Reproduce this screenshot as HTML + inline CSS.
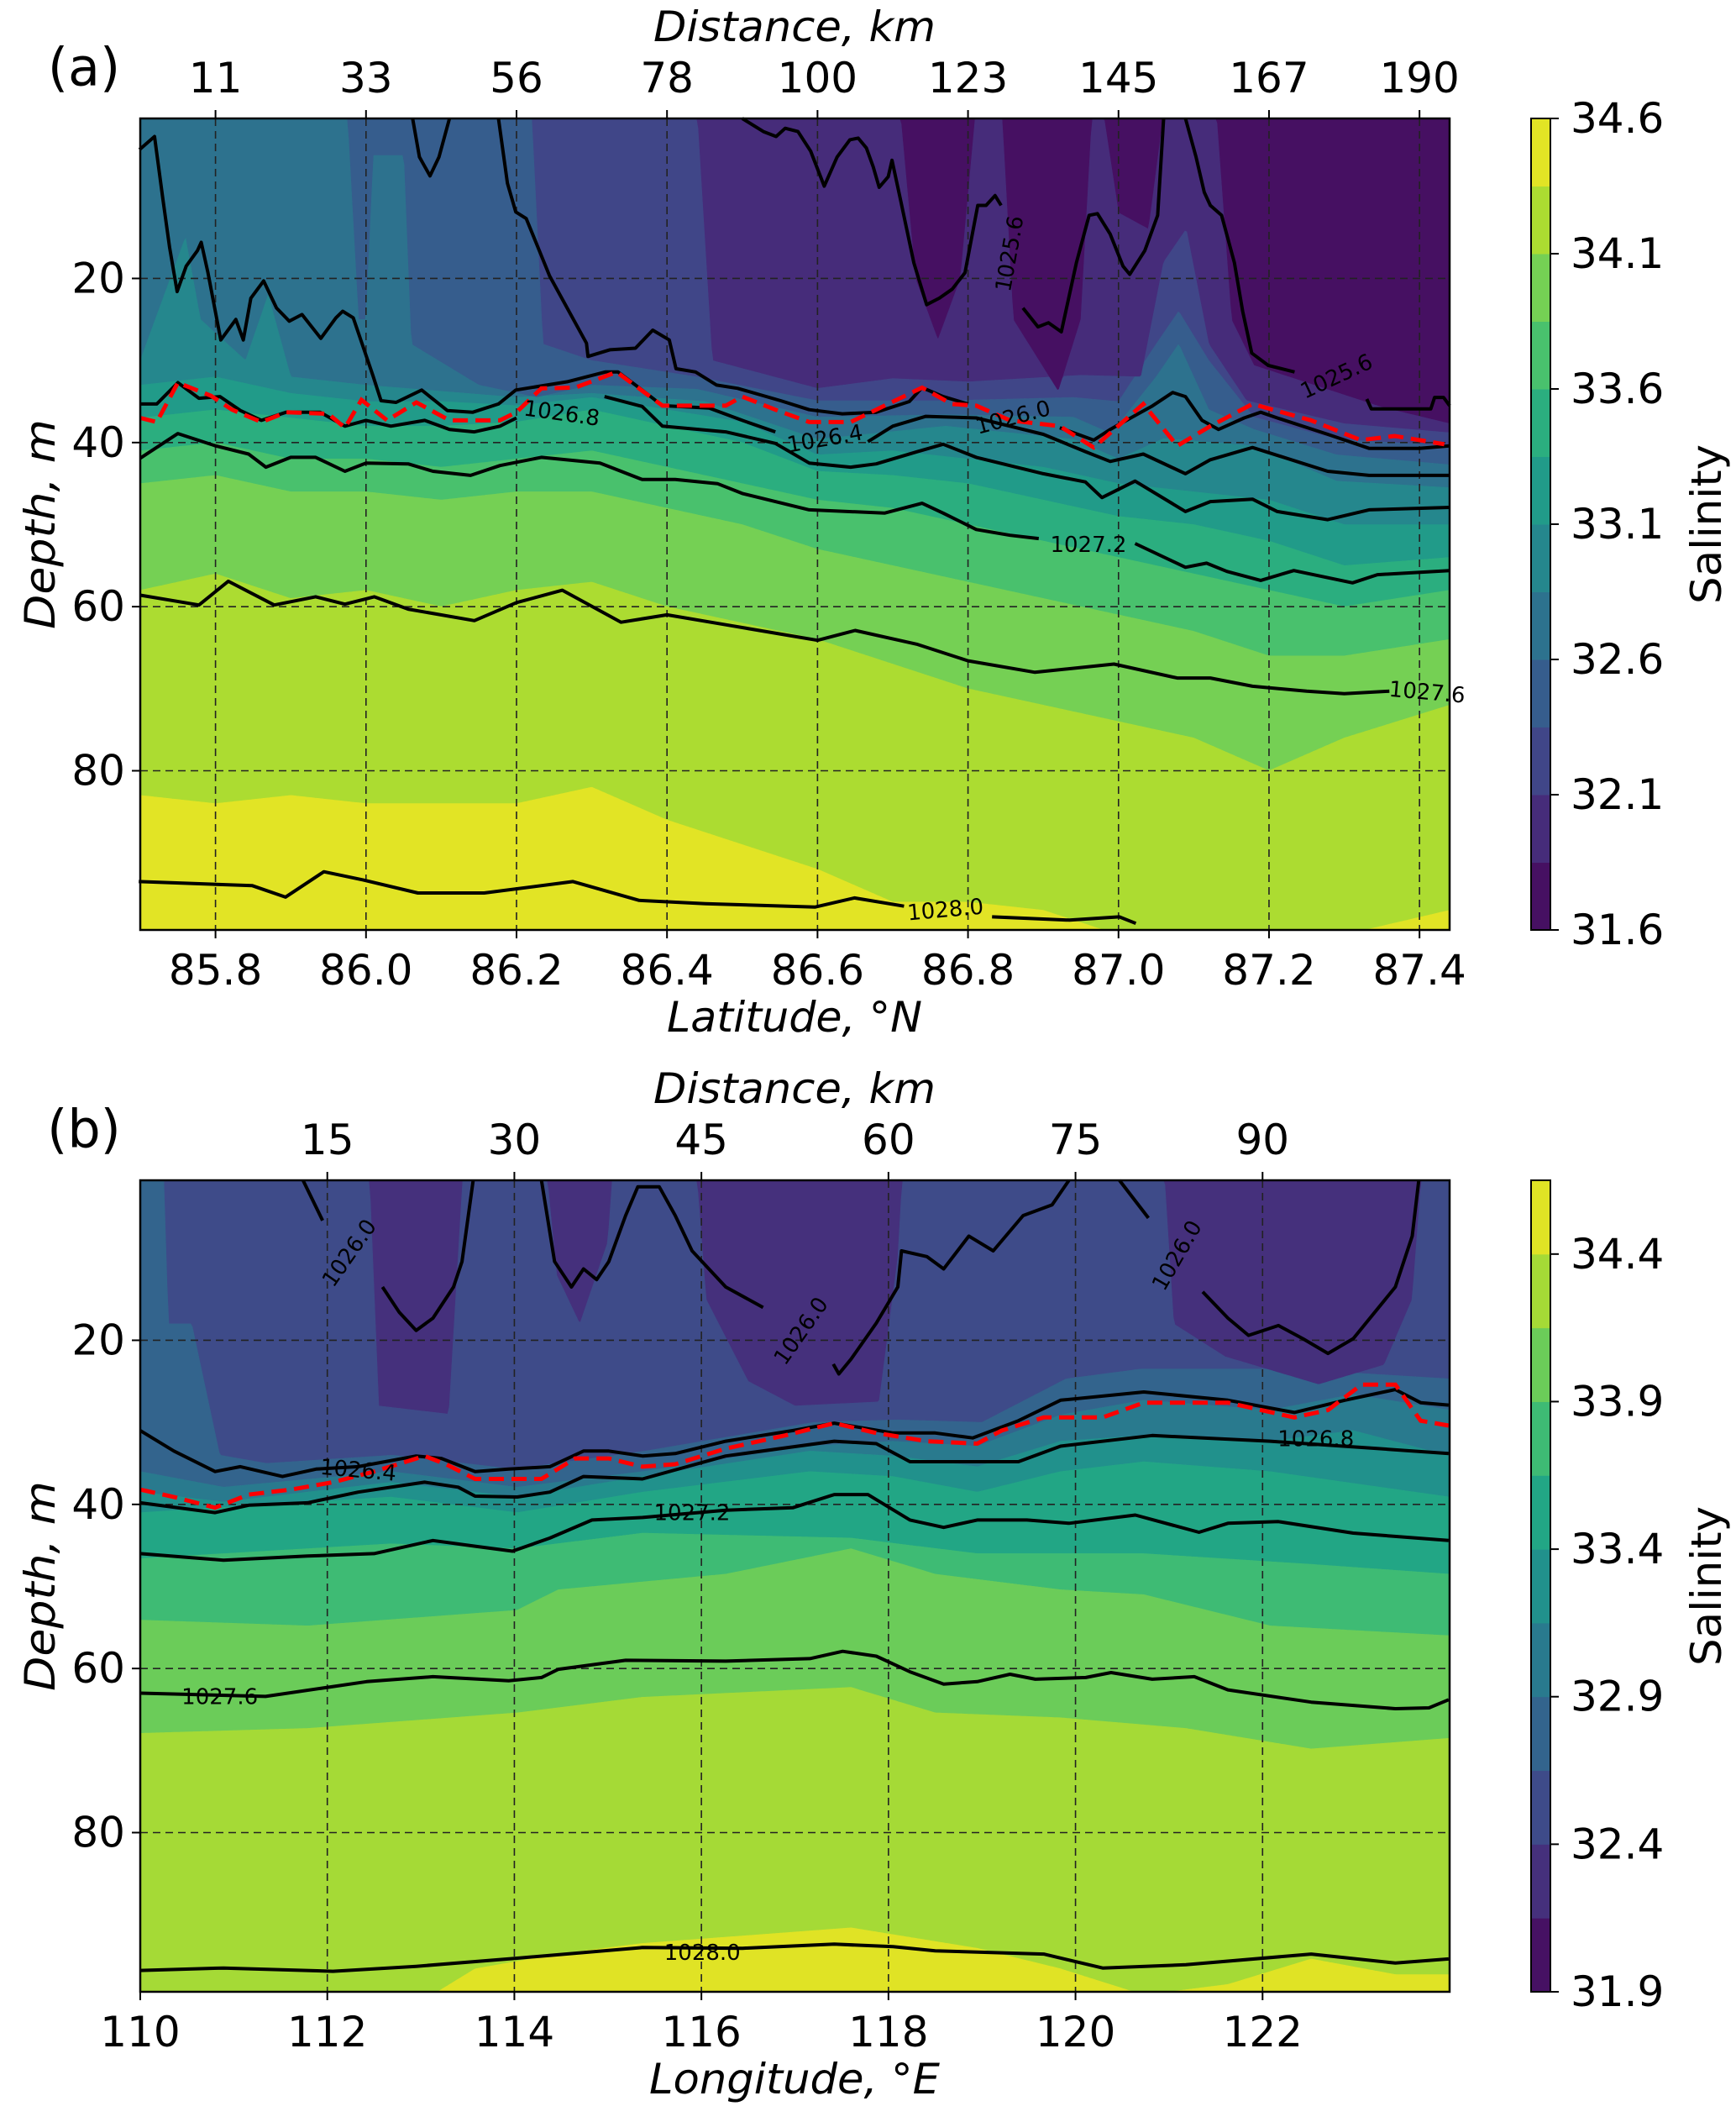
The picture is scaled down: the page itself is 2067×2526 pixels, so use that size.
<!DOCTYPE html>
<html><head><meta charset="utf-8"><title>Salinity sections</title>
<style>html,body{margin:0;padding:0;background:#fff}svg{display:block}text{font-family:"DejaVu Sans","Liberation Sans",sans-serif;fill:#000}</style>
</head><body>
<svg id="fig" xmlns="http://www.w3.org/2000/svg" width="2067" height="2526" viewBox="0 0 2067 2526">
<rect width="2067" height="2526" fill="#fff"/>
</svg>
<script>
// ================= DATA: panel (a) =================
const aLevels = [31.6,31.85,32.1,32.35,32.6,32.85,33.1,33.35,33.6,33.85,34.1,34.35,34.6];
const aCbTicks = [31.6,32.1,32.6,33.1,33.6,34.1,34.6];
const aLatTicks = [85.8,86.0,86.2,86.4,86.6,86.8,87.0,87.2,87.4];
const aDistLabels = ["11","33","56","78","100","123","145","167","190"];
const depthTicks = [20,40,60,80];
const aSt = [85.7,85.8,85.9,86.0,86.1,86.2,86.3,86.4,86.5,86.6,86.7,86.8,86.9,87.0,87.1,87.2,87.3,87.44];
const aB1x = [85.7,86.71,86.73,86.76,86.79,86.81,86.845,86.86,86.92,86.95,86.965,86.98,87.0,87.04,87.06,87.075,87.13,87.15,87.18,87.35,87.44];
const aB1d = [0,0,20,27.5,20,0,0,25,33.8,25,0,0,12,14,0,0,0,25,30.6,35.7,37.7];
const aB2x = [85.7,86.44,86.46,86.6,86.7,86.8,86.95,87.03,87.06,87.09,87.12,87.17,87.3,87.44];
const aB2d = [0,0,30,33.4,32.2,32.6,31.8,32,18,14,28,34.9,37.7,38.8];
const aB3x = [85.7,86.22,86.235,86.3,86.44,86.6,86.77,86.94,87.0,87.05,87.08,87.12,87.18,87.29,87.44];
const aB3d = [0,0,28,30,32,34.9,34.9,34.5,35,28,24,30,36.9,39.6,40.4];
const aB4x = [85.7,85.975,85.99,86.0,86.01,86.05,86.06,86.15,86.227,86.3,86.44,86.6,86.77,86.94,86.99,87.05,87.08,87.12,87.18,87.29,87.44];
const aB4d = [0,0,25,25,5,5,28,33,34.5,33,33.5,36.9,36.6,36.9,38.9,32,28,36,38.4,41.5,42.7];
const aB5x = [85.7,85.74,85.76,85.78,85.84,85.87,85.9,86.0,86.2,86.3,86.45,86.6,86.77,86.94,87.0,87.06,87.18,87.29,87.44];
const aB5d = [30,20,15,25,30,22,32,33,34.5,34,35,39.6,38,39.6,42,39.5,40.4,44.7,45.5];
const aB6d = [33,32,34,35,35,35.5,34.5,36,37.5,41.5,41,42,43,45,46,47,50,50];
const aB7d = [37,36,37,38,38,37.5,36,38,40,43.5,44,45,47,49,50,52,55,54];
const aB8d = [41,40,42,42,43,42,41,43,45,47,48,50,52,54,56,58,60,58];
const aB9d = [45,44,46,46,47,46,46,48,50,53,55,57,59,61,63,66,66,64];
const aB10d = [58,56,59,58,60,58,57,60,62,64,67,70,72,74,76,80,76,72];
const aB11d = [83,84,83,84,84,84,82,86,89,92,96,96,97,100,100,100,100,97];

// density contour lines (a)
const aY1x = [85.699,85.719,85.730,85.739,85.749,85.761,85.776,85.781,85.790,85.807,85.827,85.837,85.847,85.864,85.881,85.898,85.915,85.940,85.960,85.969,85.983,86.009,86.020,86.040,86.074,86.108,86.142,86.176,86.199,86.267,86.318,86.335,86.367,86.394,86.456,86.500,86.544];
const aY1d = [4.3,2.7,10.3,16.2,21.6,18.5,16.6,15.6,19.3,27.5,25.0,27.5,22.4,20.3,23.6,25.2,24.4,27.3,24.8,24.0,24.8,31.8,34.9,35.1,33.6,36.1,36.3,35.3,33.6,32.6,31.4,31.4,33.6,35.5,35.8,37.3,38.7];
const aY2x = [86.667,86.700,86.744,86.811,86.900,86.956,86.989,87.033,87.089,87.122,87.178,87.278,87.333,87.44];
const aY2d = [39.9,38.0,36.8,37.0,39.0,41.1,42.3,41.4,43.8,42.1,40.6,43.5,44.0,44.0];
const aL1ax = [85.700,85.722,85.750,85.778,85.806,85.833,85.861,85.894,85.939,85.972,86.000,86.033,86.078,86.111,86.144,86.178,86.200];
const aL1ad = [35.3,35.3,32.7,34.6,34.4,36.1,37.3,36.3,36.3,38.0,37.3,38.0,37.3,38.4,38.7,38.0,37.0];
const aL1bx = [86.317,86.367,86.394,86.478,86.544,86.589,86.644,86.678,86.733,86.767,86.811,86.900,86.956,86.978,87.022,87.089,87.122,87.178,87.211,87.278,87.333,87.44];
const aL1bd = [34.4,35.6,38.0,38.7,40.1,42.5,43.0,42.6,41.1,40.2,41.8,43.8,44.8,46.7,44.7,48.4,47.2,46.9,48.4,49.4,48.2,47.9];
const aZ1x = [86.176,86.188,86.199,86.213,86.244,86.293,86.295,86.324,86.358,86.381,86.403,86.412,86.438,86.466,86.494,86.551,86.589,86.633,86.678,86.722,86.739,86.767,86.800];
const aZ1d = [0.5,8.4,11.9,12.7,19.7,27.9,29.5,28.7,28.5,26.3,27.5,31.0,31.4,33.0,33.4,34.9,36.0,36.5,36.3,35.0,33.3,34.4,35.3];
const aZ2x = [86.922,86.967,86.989,87.022,87.044,87.072,87.089,87.111,87.133,87.167,87.189,87.211,87.278,87.333,87.400,87.44];
const aZ2d = [38.2,39.7,38.4,36.7,35.6,33.9,34.4,37.3,38.4,37.0,36.3,37.0,39.0,40.7,40.7,40.4];
const aL3ax = [85.7,85.75,85.8,85.844,85.867,85.9,85.933,85.972,86.0,86.056,86.089,86.139,86.178,86.233,86.311,86.367,86.411,86.467,86.5,86.589,86.689,86.739,86.767,86.811,86.856,86.894];
const aL3ad = [41.9,38.9,40.4,41.4,43.0,41.8,41.8,43.5,42.5,42.6,43.5,44.0,42.8,41.8,42.5,44.5,44.5,45.0,46.2,48.2,48.6,47.4,48.6,50.6,51.3,51.7];
const aL3bx = [87.022,87.089,87.117,87.144,87.189,87.233,87.311,87.344,87.44];
const aL3bd = [52.3,55.2,54.7,55.7,56.8,55.6,57.1,56.1,55.6];
const aL76x = [85.7,85.778,85.817,85.878,85.933,85.972,86.011,86.056,86.144,86.2,86.261,86.339,86.4,86.478,86.6,86.65,86.733,86.8,86.889,86.994,87.078,87.122,87.178,87.25,87.3,87.36];
const aL76d = [58.6,59.8,56.9,59.8,58.8,59.7,58.8,60.3,61.7,59.5,58.0,61.9,61.0,62.2,64.1,62.9,64.6,66.6,68.0,67.0,68.7,68.7,69.7,70.3,70.6,70.3];
const aL80ax = [85.698,85.849,85.893,85.944,85.996,86.069,86.157,86.275,86.363,86.451,86.597,86.649,86.715];
const aL80ad = [93.5,94,95.4,92.3,93.3,94.9,94.9,93.5,95.8,96.2,96.6,95.5,96.5];
const aL80bx = [86.832,86.935,87.001,87.023];
const aL80bd = [97.8,98.2,97.8,98.6];
const aT1x = [86.5,86.528,86.545,86.557,86.574,86.591,86.609,86.626,86.643,86.654,86.665,86.674,86.682,86.694,86.699,86.711,86.728,86.745,86.762,86.779,86.796,86.813,86.824,86.836,86.844];
const aT1d = [0.5,2.1,2.7,1.7,2.1,4.5,8.75,5.2,3.1,2.9,4.1,6.4,8.9,7.6,5.6,10.7,18.1,23.2,22.4,21.3,19.3,11.1,11.1,9.9,11.1];
const aT2x = [86.873,86.893,86.907,86.924,86.944,86.961,86.972,86.989,87.006,87.015,87.035,87.052,87.06];
const aT2d = [23.6,25.9,25.4,26.5,18.1,12.3,12.1,14.6,18.5,19.5,16.6,12.3,0.5];
const aT3x = [87.089,87.103,87.114,87.122,87.137,87.154,87.165,87.177,87.199,87.234];
const aT3d = [0.5,5.2,9.5,11.1,12.3,18.1,24.0,29.1,30.6,31.4];
const aT4x = [87.330,87.336,87.415,87.42,87.432,87.44];
const aT4d = [34.7,35.9,35.9,34.5,34.5,35.5];
const aT5x = [86.062,86.071,86.085,86.097,86.111];
const aT5d = [0.5,5.2,7.5,5.2,0.5];
const aRedX = [85.7,85.722,85.75,85.794,85.822,85.861,85.894,85.95,85.972,85.994,86.028,86.067,86.111,86.178,86.2,86.233,86.278,86.333,86.394,86.478,86.5,86.544,86.589,86.644,86.739,86.778,86.811,86.856,86.922,86.967,87.033,87.078,87.122,87.178,87.256,87.322,87.367,87.433];
const aRedD = [37.0,37.5,32.7,34.3,36.0,37.5,36.3,36.5,38.2,34.8,37.3,35.1,37.3,37.3,36.3,33.4,33.3,31.4,35.5,35.5,34.4,36.0,37.5,37.5,33.3,35.3,35.5,37.3,38.0,40.6,35.3,40.4,38.0,35.3,37.3,39.7,39.2,40.2];
const aLabTxt = ["1026.8","1026.4","1026.0","1025.6","1025.6","1027.2","1027.6","1028.0"];
const aLabX = [86.26,86.61,86.86,86.856,87.29,86.96,87.41,86.77];
const aLabD = [36.5,39.6,37,17,32,52.5,70.5,97];
const aLabRot = [8,-10,-15,-80,-25,0,5,-5];

// ================= DATA: panel (b) =================
const bLevels = [31.9,32.15,32.4,32.65,32.9,33.15,33.4,33.65,33.9,34.15,34.4,34.65];
const bCbTicks = [31.9,32.4,32.9,33.4,33.9,34.4];
const bLonTicks = [110,112,114,116,118,120,122];
const bDistTickLon = [112,114,116,118,120,122];
const bDistLabels = ["15","30","45","60","75","90"];
const bB1x = [110,124]; const bB1d = [0,0];
const bB2x = [110,112.45,112.55,113.3,113.45,114.35,114.45,114.7,115.0,115.05,115.95,116.05,116.5,117.0,117.9,118.1,118.15,120.95,121.05,121.6,122.6,123.3,123.6,123.7,124];
const bB2d = [0,0,28,29,0,0,12,18,8,0,0,15,25,28,27.5,10,0,0,18,22,25.4,23,15,0,0];
const bB3x = [110,110.25,110.3,110.55,110.85,111.35,112.7,114,115.4,117.2,118.1,119,119.9,120.7,122,123,124];
const bB3d = [0,0,18,18,34,35,34,35.7,33.5,30,29.7,30,24.7,23.5,23.5,24,24.7];
const bB4x = [110,110.89,112.68,114.03,115.37,117.16,118.05,118.95,119.84,120.73,122.08,122.97,124];
const bB4d = [36,37.9,36,37.9,36,32.9,32.3,32.9,29.1,27.3,28.5,26.6,28.5];
const bB5d = [38.5,39.7,37.3,39.1,36.6,33.5,34.1,35.4,32.3,31.6,32.3,31,34.1];
const bB6x = [110,112.68,114.03,115.37,117.16,118.05,118.95,119.84,120.73,122.08,124];
const bB6d = [41,39.1,41,38.5,36,36.6,38.5,36,34.8,36,39.1];
const bB7x = [110,112.68,114.03,115.37,117.6,118.95,120.73,122.52,124];
const bB7d = [46.6,44.8,45.4,43.5,44.1,46,46,47.3,48.5];
const bB8x = [110,111.79,114.03,114.47,116.26,117.6,118.5,119.84,120.73,122.08,124];
const bB8d = [54.1,54.8,52.9,50.4,48.5,45.4,48.5,50.4,51,54.8,56];
const bB9x = [110,111.79,114.03,115.37,117.6,118.5,119.84,121.18,122.52,124];
const bB9d = [67.9,67.3,65.4,63.5,62.3,65.4,66,67.3,69.8,68.5];
const bB10x = [110,112.95,113.58,114.47,115.37,117.6,118.95,119.84,120.73,121.63,122.52,123.42,124];
const bB10d = [101,101,96.6,94.8,93.5,91.6,94.1,96.6,99.8,98.5,95.4,97.3,97.3];

const bL64x = [110.00,110.36,110.80,111.07,111.52,111.88,112.33,112.95,113.22,113.58,113.94,114.38,114.74,115.01,115.37,115.72,116.26,116.98,117.42,118.05,118.50,118.90,119.39,119.84,120.73,121.63,122.34,122.88,123.42,123.69,123.99];
const bL64d = [31.0,33.5,36.0,35.4,36.6,35.7,35.4,34.1,34.4,36.0,35.7,35.4,33.5,33.5,34.1,33.8,32.3,31.0,30.1,31.3,31.3,31.9,29.8,27.3,26.3,27.3,28.8,27.3,26.0,27.6,27.9];
const bRedX = [110.00,110.36,110.80,111.16,111.61,112.06,112.50,113.04,113.27,113.58,114.29,114.65,115.01,115.37,115.72,116.26,116.89,117.42,117.87,118.41,118.95,119.21,119.66,120.29,120.73,121.63,122.34,122.70,123.06,123.42,123.69,123.99];
const bRedD = [38.2,39.1,40.4,38.8,38.2,37.3,36.0,34.1,35.1,36.9,36.9,34.4,34.4,35.4,35.1,33.2,31.6,30.1,31.3,32.3,32.6,31.0,29.4,29.4,27.6,27.6,29.4,28.5,25.4,25.4,29.8,30.4];
const bL68x = [110.00,110.80,111.16,111.79,112.33,113.04,113.40,113.58,114.03,114.38,114.74,115.37,116.26,117.42,117.87,118.23,118.95,119.39,119.84,120.82,122.08,123.24,123.99];
const bL68d = [39.8,41.0,40.1,39.8,38.5,37.3,37.9,39.0,39.1,38.5,36.6,36.9,34.1,32.3,32.6,34.8,34.8,34.8,32.9,31.6,32.3,33.2,33.8];
const bL72x = [110.00,110.89,111.79,112.50,113.13,113.58,113.98,114.38,114.83,115.37,116.26,116.98,117.42,117.78,118.23,118.59,118.95,119.48,119.93,120.64,121.32,121.63,122.17,122.97,123.99];
const bL72d = [46.0,46.8,46.3,46.0,44.4,45.1,45.7,44.1,41.9,41.6,40.7,40.4,38.8,38.8,41.9,42.8,41.9,41.9,42.3,41.3,43.4,42.3,42.1,43.5,44.4];
const bL76x = [110.00,111.34,112.42,113.13,113.94,114.29,114.47,115.19,116.26,117.16,117.51,117.87,118.23,118.59,118.95,119.30,119.57,120.11,120.38,120.82,121.27,121.63,122.52,123.42,123.78,123.99];
const bL76d = [63.0,63.4,61.6,61.0,61.5,61.1,60.1,59.0,59.1,58.8,57.9,58.5,60.4,61.9,61.6,60.7,61.3,61.1,60.5,61.3,61.0,62.6,64.1,64.9,64.8,63.8];
const bL80x = [110.00,110.89,112.06,112.95,114.03,115.37,116.44,117.42,118.05,118.50,119.66,120.29,121.18,122.52,123.42,123.99];
const bL80d = [96.8,96.5,96.9,96.3,95.3,94.0,94.1,93.6,93.9,94.4,94.8,96.5,96.1,94.8,95.9,95.4];
const bA1x = [111.74,111.95]; const bA1d = [0.5,5.4];
const bA2x = [112.59,112.77,112.95,113.13,113.35,113.44,113.56];
const bA2d = [13.5,16.6,18.8,17.3,13.5,10.4,0.5];
const bA3x = [114.29,114.43,114.61,114.74,114.88,115.01,115.19,115.32,115.55,115.72,115.90,116.26,116.66];
const bA3d = [0.5,10.4,13.5,11.3,12.6,10.4,4.8,1.3,1.3,4.8,9.1,13.5,16.0];
const bA4x = [117.41,117.47,117.60,117.87,118.10,118.14,118.41,118.59,118.86,119.12,119.44,119.75,119.93];
const bA4d = [22.9,24.1,22.3,17.9,13.5,9.1,9.8,11.3,7.3,9.1,4.8,3.5,0.5];
const bA5x = [120.47,120.78]; const bA5d = [0.5,5.1];
const bA6x = [121.36,121.63,121.85,122.17,122.43,122.70,122.97,123.42,123.60,123.67];
const bA6d = [14.1,17.3,19.4,18.2,19.8,21.6,19.8,13.5,7.3,0.5];
const bLabTxt = ["1026.0","1026.0","1026.0","1026.4","1027.2","1027.6","1026.8","1028.0"];
const bLabX = [112.24,117.07,121.09,112.33,115.9,110.85,122.57,116.01];
const bLabD = [9.4,18.9,9.7,35.9,41.1,63.5,32.1,94.7];
const bLabRot = [-55,-55,-60,5,0,0,0,0];

// ================= RENDERING =================
const NS = "http://www.w3.org/2000/svg";
const svg = document.getElementById('fig');
const VIR = [[68,1,84],[72,36,117],[65,68,135],[53,95,141],[42,120,142],[33,145,140],[34,168,132],[68,191,112],[122,209,81],[189,223,38],[253,231,37]];
function viridis(t){t=Math.max(0,Math.min(1,t));const s=t*10,i=Math.min(9,Math.floor(s)),f=s-i;const a=VIR[i],b=VIR[i+1];
  return 'rgb('+[0,1,2].map(k=>Math.round(a[k]+(b[k]-a[k])*f)).join(',')+')';}
function interp(xs,ds,x){if(x<=xs[0])return ds[0];for(let i=1;i<xs.length;i++){if(x<=xs[i]){const f=(x-xs[i-1])/(xs[i]-xs[i-1]);return ds[i-1]+(ds[i]-ds[i-1])*f;}}return ds[ds.length-1];}
function el(tag,attrs,parent){const e=document.createElementNS(NS,tag);for(const k in attrs)e.setAttribute(k,attrs[k]);(parent||svg).appendChild(e);return e;}
function txt(s,x,y,size,parent,opts){opts=opts||{};const t=el('text',{x:x,y:y,'font-size':size,'text-anchor':opts.anchor||'middle','dominant-baseline':'central'},parent);
  if(opts.italic)t.setAttribute('font-style','italic');if(opts.rot!==undefined)t.setAttribute('transform','rotate('+opts.rot+' '+x+' '+y+')');
  if(opts.len){t.setAttribute('textLength',opts.len);t.setAttribute('lengthAdjust','spacingAndGlyphs');}t.textContent=s;return t;}

function panel(cfg){
  const g=el('g',{});
  
  
  const X0=167,X1=1726,Y0=cfg.y0,Y1=cfg.y1,dmin=0.5,dmax=99.4;
  const px=x=>X0+(x-cfg.xmin)/(cfg.xmax-cfg.xmin)*(X1-X0);
  const py=d=>Y0+(Math.max(dmin,Math.min(dmax,d))-dmin)/(dmax-dmin)*(Y1-Y0);
  const nb=cfg.levels.length-1;
  // sample boundaries
  const step=2,cols=[];
  for(let X=X0;X<=X1+0.01;X+=step){const xv=cfg.xmin+(Math.min(X,X1)-X0)/(X1-X0)*(cfg.xmax-cfg.xmin);
    const bs=[];let prev=dmin;for(const b of cfg.bounds){let v=interp(b[0],b[1],xv);v=Math.max(prev,Math.min(dmax,Math.max(dmin,v)));bs.push(v);prev=v;}
    cols.push({X:Math.min(X,X1),bs:bs});}
  const fills=el('g',{},g);
  
  
  for(let k=0;k<nb;k++){
    let top=[],bot=[];
    for(const c of cols){const t=k===0?dmin:c.bs[k-1];const b=k===nb-1?dmax:c.bs[k];top.push([c.X,py(t)]);bot.push([c.X,py(Math.max(t,b))]);}
    const pts=top.concat(bot.reverse()).map(p=>p[0].toFixed(1)+','+p[1].toFixed(1)).join(' ');
    const p=el('polygon',{points:pts,fill:viridis((k+0.5)/nb),stroke:viridis((k+0.5)/nb),'stroke-width':0.6},fills);
    
    
  }
  // grid
  const grid=el('g',{stroke:'#222','stroke-width':1.6,'stroke-dasharray':'9,6',fill:'none'},g);
  
  
  for(const t of cfg.xticks)el('line',{x1:px(t),x2:px(t),y1:Y0,y2:Y1},grid);
  for(const t of depthTicks)el('line',{x1:X0,x2:X1,y1:py(t),y2:py(t)},grid);
  // contour lines
  const cl=el('g',{fill:'none',stroke:'#000','stroke-width':4,'stroke-linejoin':'round'},g);
  
  
  for(const L of cfg.lines){const p=el('polyline',{points:L[0].map((x,i)=>px(x).toFixed(1)+','+py(L[1][i]).toFixed(1)).join(' ')},cl);
    
    }
  const red=el('polyline',{points:cfg.red[0].map((x,i)=>px(x).toFixed(1)+','+py(cfg.red[1][i]).toFixed(1)).join(' '),fill:'none',stroke:'#ff0000','stroke-width':5,'stroke-dasharray':'18,9'},g);
  
  
  for(let i=0;i<cfg.labTxt.length;i++){const t=txt(cfg.labTxt[i],px(cfg.labX[i]),py(cfg.labD[i]),26,g,{rot:cfg.labRot[i]});
    
    }
  // frame
  const fr=el('rect',{x:X0,y:Y0,width:X1-X0,height:Y1-Y0,fill:'none',stroke:'#000','stroke-width':2.5},g);
  
  
  // ticks bottom
  const ax=el('g',{},g);
  
  
  cfg.xticks.forEach((t,i)=>{el('line',{x1:px(t),x2:px(t),y1:Y1,y2:Y1+10,stroke:'#000','stroke-width':2},ax);
    const l=txt(cfg.xtickLabels[i],px(t),Y1+48,50,ax);});
  cfg.topTicks.forEach((t,i)=>{el('line',{x1:px(t),x2:px(t),y1:Y0,y2:Y0-10,stroke:'#000','stroke-width':2},ax);
    const l=txt(cfg.topLabels[i],px(t),Y0-48,50,ax);});
  depthTicks.forEach(t=>{el('line',{x1:X0,x2:X0-10,y1:py(t),y2:py(t),stroke:'#000','stroke-width':2},ax);
    const l=txt(String(t),X0-18,py(t),50,ax,{anchor:'end'});});
  let t;
  t=txt(cfg.xtitle,946,Y1+104,50,ax,{italic:true,len:cfg.xtitleLen});
  t=txt('Distance, km',946,Y0-109,50,ax,{italic:true,len:336});
  t=txt('Depth, m',48,(Y0+Y1)/2,50,ax,{italic:true,rot:-90,len:250});
  t=txt(cfg.tag,100,Y0-61,62,ax);
  // colorbar
  const cb=el('g',{},g);
  
  
  const CX0=1823,CX1=1846,lv=cfg.levels,cy=v=>Y1-(v-lv[0])/(lv[lv.length-1]-lv[0])*(Y1-Y0);
  for(let k=0;k<nb;k++){const r=el('rect',{x:CX0,y:cy(lv[k+1]),width:CX1-CX0,height:cy(lv[k])-cy(lv[k+1])+0.5,fill:viridis((k+0.5)/nb)},cb);
    }
  el('rect',{x:CX0,y:Y0,width:CX1-CX0,height:Y1-Y0,fill:'none',stroke:'#000','stroke-width':2},cb);
  cfg.cbTicks.forEach(v=>{el('line',{x1:CX1,x2:CX1+10,y1:cy(v),y2:cy(v),stroke:'#000','stroke-width':2},cb);
    const l=txt(v.toFixed(1),1870,cy(v),50,cb,{anchor:'start'});});
  t=txt('Salinity',2032,(Y0+Y1)/2,50,cb,{rot:-90,len:190});
}

panel({name:'panel-a-latitude-section',tag:'(a)',y0:141,y1:1107,xmin:85.7,xmax:87.44,levels:aLevels,cbTicks:aCbTicks,
  bounds:[[aB1x,aB1d],[aB2x,aB2d],[aB3x,aB3d],[aB4x,aB4d],[aB5x,aB5d],[aSt,aB6d],[aSt,aB7d],[aSt,aB8d],[aSt,aB9d],[aSt,aB10d],[aSt,aB11d]],
  lines:[[aY1x,aY1d],[aY2x,aY2d],[aL1ax,aL1ad],[aL1bx,aL1bd],[aZ1x,aZ1d],[aZ2x,aZ2d],[aL3ax,aL3ad],[aL3bx,aL3bd],[aL76x,aL76d],[aL80ax,aL80ad],[aL80bx,aL80bd],[aT1x,aT1d],[aT2x,aT2d],[aT3x,aT3d],[aT4x,aT4d],[aT5x,aT5d]],
  red:[aRedX,aRedD],labTxt:aLabTxt,labX:aLabX,labD:aLabD,labRot:aLabRot,
  xticks:aLatTicks,xtickLabels:aLatTicks.map(v=>v.toFixed(1)),topTicks:aLatTicks,topLabels:aDistLabels,
  xtitle:'Latitude, °N',xtitleLen:304});

panel({name:'panel-b-longitude-section',tag:'(b)',y0:1405,y1:2371,xmin:110,xmax:124,levels:bLevels,cbTicks:bCbTicks,
  bounds:[[bB1x,bB1d],[bB2x,bB2d],[bB3x,bB3d],[bB4x,bB4d],[bB4x,bB5d],[bB6x,bB6d],[bB7x,bB7d],[bB8x,bB8d],[bB9x,bB9d],[bB10x,bB10d]],
  lines:[[bL64x,bL64d],[bL68x,bL68d],[bL72x,bL72d],[bL76x,bL76d],[bL80x,bL80d],[bA1x,bA1d],[bA2x,bA2d],[bA3x,bA3d],[bA4x,bA4d],[bA5x,bA5d],[bA6x,bA6d]],
  red:[bRedX,bRedD],labTxt:bLabTxt,labX:bLabX,labD:bLabD,labRot:bLabRot,
  xticks:bLonTicks,xtickLabels:bLonTicks.map(String),topTicks:bDistTickLon,topLabels:bDistLabels,
  xtitle:'Longitude, °E',xtitleLen:346});
</script>
</body></html>
